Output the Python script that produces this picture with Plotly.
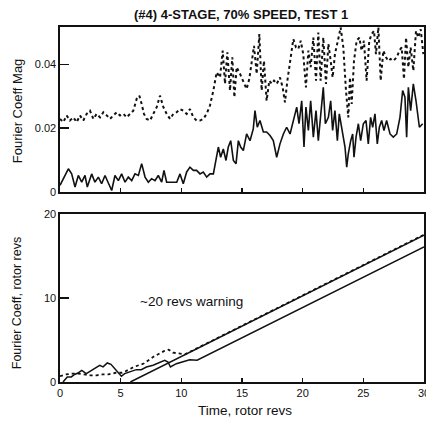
import plotly.graph_objects as go

# ---------------- data: top panel (Fourier coefficient magnitude) ----------------
mag_solid_t = [0.00, 0.69, 0.96, 1.24, 1.51, 1.79, 2.06, 2.25, 2.61, 2.88,
               3.16, 3.43, 3.71, 3.98, 4.26, 4.53, 4.81, 5.08, 5.36, 5.63,
               5.91, 6.18, 6.46, 6.73, 7.01, 7.28, 7.55, 7.83, 8.10, 8.38,
               8.57, 8.79, 9.20, 9.62, 9.89, 10.16, 10.44, 10.71, 10.99, 11.26,
               11.54, 11.81, 12.09, 12.36, 12.64, 12.86, 13.05, 13.24, 13.46, 13.68,
               13.87, 14.07, 14.29, 14.51, 14.70, 14.89, 15.11, 15.38, 15.66, 15.93,
               16.07, 16.26, 16.48, 16.76, 17.03, 17.31, 17.58, 17.86, 18.13, 18.41,
               18.68, 18.96, 19.23, 19.51, 19.70, 19.92, 20.11, 20.27, 20.47, 20.66,
               20.88, 21.10, 21.29, 21.48, 21.70, 21.87, 22.12, 22.31, 22.47, 22.66,
               22.86, 23.02, 23.21, 23.35, 23.49, 23.63, 23.76, 23.96, 24.12, 24.23,
               24.40, 24.59, 24.78, 25.00, 25.22, 25.41, 25.60, 25.77, 25.96, 26.15,
               26.32, 26.51, 26.70, 26.92, 27.20, 27.47, 27.75, 28.02, 28.24, 28.43,
               28.57, 28.71, 28.90, 29.12, 29.34, 29.62, 29.89]
mag_solid_v = [0.0021, 0.0073, 0.0057, 0.0016, 0.0052, 0.0031, 0.0052, 0.0016, 0.0057, 0.0031,
               0.0047, 0.0026, 0.0052, 0.0026, 0.0005, 0.0052, 0.0036, 0.0057, 0.0031, 0.0047,
               0.0036, 0.0057, 0.0052, 0.0089, 0.0047, 0.0031, 0.0042, 0.0036, 0.0052, 0.0031,
               0.0068, 0.0031, 0.0031, 0.0031, 0.0057, 0.0026, 0.0063, 0.0078, 0.0068, 0.0068,
               0.0057, 0.0063, 0.0047, 0.0057, 0.0057, 0.0109, 0.0141, 0.0109, 0.0135, 0.0099,
               0.0141, 0.0161, 0.0099, 0.0089, 0.0161, 0.0141, 0.0130, 0.0182, 0.0161, 0.0198,
               0.0255, 0.0203, 0.0224, 0.0188, 0.0188, 0.0177, 0.0161, 0.0109, 0.0151, 0.0182,
               0.0203, 0.0182, 0.0224, 0.0266, 0.0214, 0.0286, 0.0141, 0.0266, 0.0193, 0.0286,
               0.0172, 0.0255, 0.0161, 0.0245, 0.0328, 0.0214, 0.0234, 0.0286, 0.0193, 0.0255,
               0.0161, 0.0245, 0.0203, 0.0161, 0.0141, 0.0078, 0.0120, 0.0161, 0.0182, 0.0109,
               0.0172, 0.0214, 0.0161, 0.0214, 0.0224, 0.0151, 0.0234, 0.0203, 0.0245, 0.0151,
               0.0203, 0.0224, 0.0193, 0.0224, 0.0182, 0.0172, 0.0182, 0.0234, 0.0318, 0.0297,
               0.0172, 0.0328, 0.0255, 0.0339, 0.0286, 0.0203, 0.0214]

mag_dot_t = [0.00, 0.27, 0.55, 0.82, 1.10, 1.37, 1.65, 1.92, 2.20, 2.47,
             2.75, 3.02, 3.30, 3.57, 3.85, 4.12, 4.40, 4.67, 4.95, 5.22,
             5.49, 5.77, 6.04, 6.32, 6.54, 6.73, 6.92, 7.14, 7.42, 7.69,
             7.97, 8.24, 8.52, 8.79, 9.07, 9.34, 9.62, 9.89, 10.16, 10.44,
             10.71, 10.99, 11.26, 11.54, 11.81, 12.09, 12.36, 12.64, 12.91, 13.19,
             13.41, 13.60, 13.79, 14.01, 14.20, 14.37, 14.56, 14.84, 15.11, 15.38,
             15.60, 15.80, 15.99, 16.21, 16.43, 16.62, 16.81, 17.03, 17.25, 17.45,
             17.64, 17.86, 18.13, 18.35, 18.54, 18.74, 18.96, 19.23, 19.45, 19.64,
             19.84, 20.05, 20.27, 20.47, 20.66, 20.88, 21.10, 21.29, 21.48, 21.70,
             21.92, 22.12, 22.31, 22.47, 22.66, 22.86, 23.02, 23.13, 23.35, 23.57,
             23.76, 23.90, 24.04, 24.23, 24.45, 24.67, 24.86, 25.05, 25.27, 25.49,
             25.69, 25.88, 26.04, 26.24, 26.43, 26.65, 26.87, 27.06, 27.25, 27.47,
             27.75, 27.97, 28.16, 28.35, 28.52, 28.71, 28.90, 29.12, 29.34, 29.53,
             29.73, 29.95]
mag_dot_v = [0.0229, 0.0219, 0.0240, 0.0224, 0.0234, 0.0219, 0.0240, 0.0224, 0.0245, 0.0255,
             0.0229, 0.0245, 0.0234, 0.0250, 0.0240, 0.0229, 0.0240, 0.0250, 0.0240, 0.0245,
             0.0234, 0.0245, 0.0255, 0.0292, 0.0302, 0.0276, 0.0245, 0.0229, 0.0224, 0.0245,
             0.0266, 0.0302, 0.0266, 0.0245, 0.0229, 0.0245, 0.0250, 0.0260, 0.0255, 0.0245,
             0.0260, 0.0234, 0.0224, 0.0224, 0.0229, 0.0245, 0.0271, 0.0318, 0.0375, 0.0359,
             0.0443, 0.0339, 0.0438, 0.0318, 0.0422, 0.0297, 0.0391, 0.0370, 0.0349, 0.0323,
             0.0354, 0.0411, 0.0458, 0.0370, 0.0495, 0.0318, 0.0411, 0.0286, 0.0349, 0.0339,
             0.0349, 0.0339, 0.0359, 0.0328, 0.0281, 0.0349, 0.0401, 0.0479, 0.0453, 0.0448,
             0.0474, 0.0432, 0.0328, 0.0443, 0.0391, 0.0484, 0.0349, 0.0500, 0.0349, 0.0484,
             0.0339, 0.0464, 0.0411, 0.0359, 0.0432, 0.0474, 0.0495, 0.0516, 0.0453, 0.0318,
             0.0234, 0.0359, 0.0276, 0.0411, 0.0474, 0.0484, 0.0443, 0.0474, 0.0349, 0.0474,
             0.0495, 0.0505, 0.0432, 0.0516, 0.0349, 0.0443, 0.0422, 0.0411, 0.0417, 0.0411,
             0.0422, 0.0443, 0.0453, 0.0354, 0.0484, 0.0391, 0.0453, 0.0380, 0.0505, 0.0484,
             0.0510, 0.0432]

# ---------------- data: bottom panel (Fourier coefficient, rotor revs) ----------------
rev_dot_t = [0.0, 0.5, 1.0, 1.5, 2.0, 2.5, 3.0, 3.5, 4.0, 4.6, 5.1, 5.3, 6.1,
             6.9, 7.7, 8.6, 8.96, 9.3, 10.3, 30.0]
rev_dot_v = [0.7, 0.9, 1.0, 1.0, 0.9, 0.8, 0.8, 0.9, 0.9, 1.1, 1.1, 1.2, 1.8,
             2.2, 3.0, 3.7, 3.85, 3.5, 3.3, 17.55]

rev_wig_t = [0.25, 0.6, 0.93, 1.2, 1.48, 1.79, 2.17, 2.58, 3.0, 3.27, 3.55, 3.9,
             4.2, 4.64, 5.06, 5.33, 5.74, 6.29, 6.7, 7.12, 7.67, 8.08, 8.63, 8.9,
             9.1, 9.59, 10.14, 10.69, 11.3, 30.0]
rev_wig_v = [0.0, 0.6, 0.6, 0.9, 1.07, 1.39, 1.0, 1.39, 1.79, 1.99, 1.8, 2.27,
             2.1, 1.39, 0.68, 1.0, 1.19, 1.47, 1.47, 1.79, 1.99, 2.27, 2.58, 2.38,
             1.79, 2.18, 2.38, 2.66, 2.6, 16.1]

rev_lin_t = [5.8, 30.0]
rev_lin_v = [0.0, 17.5]

x_ticks = [0, 5, 10, 15, 20, 25, 30]
x_ticktext = ["0", "5", "10", "15", "20", "25", "30"]
mag_ticks = [0, 0.02, 0.04]
mag_ticktext = ["0", "0.02", "0.04"]
rev_ticks = [0, 10, 20]
rev_ticktext = ["0", "10", "20"]

title_text = "(#4) 4-STAGE, 70% SPEED, TEST 1"
ytitle_top = "Fourier Coeff Mag"
ytitle_bot = "Fourier Coeff, rotor revs"
xtitle = "Time, rotor revs"
note_text = "~20 revs warning"

FONT = "Liberation Sans, Arial, sans-serif"
BLACK = "#111111"

fig = go.Figure()

fig.add_trace(go.Scatter(x=mag_dot_t, y=mag_dot_v, mode="lines", xaxis="x", yaxis="y",
                         line=dict(color=BLACK, width=2, dash="dot"), showlegend=False))
fig.add_trace(go.Scatter(x=mag_solid_t, y=mag_solid_v, mode="lines", xaxis="x", yaxis="y",
                         line=dict(color=BLACK, width=1.6), showlegend=False))

fig.add_trace(go.Scatter(x=rev_dot_t, y=rev_dot_v, mode="lines", xaxis="x2", yaxis="y2",
                         line=dict(color=BLACK, width=1.8, dash="dot"), showlegend=False))
fig.add_trace(go.Scatter(x=rev_wig_t, y=rev_wig_v, mode="lines", xaxis="x2", yaxis="y2",
                         line=dict(color=BLACK, width=1.5), showlegend=False))
fig.add_trace(go.Scatter(x=rev_lin_t, y=rev_lin_v, mode="lines", xaxis="x2", yaxis="y2",
                         line=dict(color=BLACK, width=1.5), showlegend=False))

axis_common = dict(showline=True, mirror=True, linecolor=BLACK, linewidth=1.6,
                   showgrid=False, zeroline=False, ticks="inside", tickcolor=BLACK,
                   tickwidth=1.5, automargin=False,
                   tickfont=dict(family=FONT, size=11, color=BLACK))

fig.update_layout(
    width=426, height=421, autosize=False,
    margin=dict(l=60, r=2, t=27, b=39),
    paper_bgcolor="white", plot_bgcolor="white",
    hovermode=False,
    xaxis=dict(domain=[0, 1], range=[0, 30], anchor="y", tickvals=x_ticks,
               showticklabels=False, ticklen=4, **axis_common),
    yaxis=dict(domain=[0.535, 1.0], range=[0, 0.0517], anchor="x", tickvals=mag_ticks,
               ticktext=mag_ticktext, ticklen=9, **axis_common),
    xaxis2=dict(domain=[0, 1], range=[0, 30], anchor="y2", tickvals=x_ticks,
                ticktext=x_ticktext, ticklen=4, ticklabeloverflow="allow", **axis_common),
    yaxis2=dict(domain=[0, 0.473], range=[0, 20], anchor="x2", tickvals=rev_ticks,
                ticktext=rev_ticktext, ticklen=9, **axis_common),
    annotations=[
        dict(text="<b>" + title_text + "</b>", xref="paper", yref="paper", x=0.497, y=1.034,
             xanchor="center", yanchor="middle", showarrow=False,
             font=dict(family=FONT, size=13, color=BLACK)),
        dict(text=ytitle_top, xref="paper", yref="paper", x=-0.118, y=0.763, textangle=-90,
             xanchor="center", yanchor="middle", showarrow=False,
             font=dict(family=FONT, size=13, color=BLACK)),
        dict(text=ytitle_bot, xref="paper", yref="paper", x=-0.118, y=0.222, textangle=-90,
             xanchor="center", yanchor="middle", showarrow=False,
             font=dict(family=FONT, size=12.5, color=BLACK)),
        dict(text=xtitle, xref="paper", yref="paper", x=0.508, y=-0.079,
             xanchor="center", yanchor="middle", showarrow=False,
             font=dict(family=FONT, size=13.5, color=BLACK)),
        dict(text=note_text, xref="x2", yref="y2", x=10.8, y=9.6,
             xanchor="center", yanchor="middle", showarrow=False,
             font=dict(family=FONT, size=13.5, color=BLACK)),
    ],
)

fig.write_html(
    "out.html",
    config={"displayModeBar": False, "staticPlot": True},
    post_script="document.body.style.margin='0';document.body.style.overflow='hidden';",
)
